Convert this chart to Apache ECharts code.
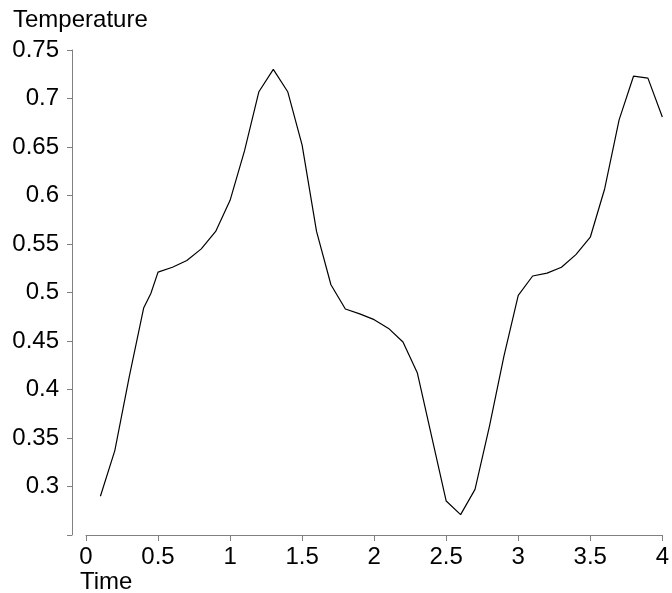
<!DOCTYPE html>
<html>
<head>
<meta charset="utf-8">
<script src="https://cdn.jsdelivr.net/npm/echarts@6/dist/echarts.min.js"></script>
<style>
  html, body { margin: 0; padding: 0; background: #fff; }
  #chart { width: 672px; height: 593px; }
</style>
</head>
<body>
<div id="chart"></div>
<script>
// time steps
var times = [
  0.1, 0.2, 0.3, 0.4, 0.45, 0.5, 0.6, 0.7, 0.8, 0.9, 1.0,
  1.1, 1.2, 1.3, 1.4, 1.5, 1.6, 1.7, 1.8, 1.9, 2.0,
  2.1, 2.2, 2.3, 2.4, 2.5, 2.6, 2.7, 2.8, 2.9, 3.0,
  3.1, 3.2, 3.3, 3.4, 3.5, 3.6, 3.7, 3.8, 3.9, 4.0
];

// temperature
var temps = [
  0.290, 0.337, 0.413, 0.484, 0.499, 0.521, 0.526, 0.533, 0.545, 0.563, 0.595,
  0.646, 0.707, 0.730, 0.707, 0.652, 0.563, 0.508, 0.483, 0.478, 0.472,
  0.463, 0.449, 0.417, 0.351, 0.285, 0.271, 0.297, 0.362, 0.434, 0.497,
  0.517, 0.520, 0.526, 0.539, 0.557, 0.607, 0.678, 0.723, 0.721, 0.681
];

var xTicks = [0, 4, 0.5];        // min, max, step
var yTicks = [0.25, 0.75, 0.05];

var pts = times.map(function (t, i) { return [t, temps[i]]; });

var font = 'Liberation Sans, Arial, Helvetica, sans-serif';
var axisGrey = '#808080';

var myChart = echarts.init(document.getElementById('chart'));

option = {
    animation: false,
    backgroundColor: '#fff',
    grid: {
        left: 86,
        right: 6,
        top: 50,
        bottom: 58
    },
    xAxis: {
        type: 'value',
        min: xTicks[0],
        max: xTicks[1],
        interval: xTicks[2],
        splitLine: { show: false },
        axisLine: { show: true, onZero: false, lineStyle: { color: axisGrey, width: 1 } },
        axisTick: { show: true, length: 6, lineStyle: { color: axisGrey } },
        axisLabel: {
            color: '#000',
            fontFamily: font,
            fontSize: 24,
            margin: 10,
            formatter: function (v) { return String(+v.toFixed(2)); }
        }
    },
    yAxis: {
        type: 'value',
        min: yTicks[0],
        max: yTicks[1],
        interval: yTicks[2],
        offset: 14,
        splitLine: { show: false },
        axisLine: { show: true, onZero: false, lineStyle: { color: axisGrey, width: 1 } },
        axisTick: { show: true, length: 5, lineStyle: { color: axisGrey } },
        axisLabel: {
            color: '#000',
            fontFamily: font,
            fontSize: 24,
            margin: 13,
            formatter: function (v) {
                if (Math.abs(v - yTicks[0]) < 1e-9) return '';
                return String(+v.toFixed(2));
            }
        }
    },
    graphic: [
        {
            type: 'text', left: 13, top: 8,
            style: { text: 'Temperature', fill: '#000', font: '24px ' + font }
        },
        {
            type: 'text', left: 80, top: 570,
            style: { text: 'Time', fill: '#000', font: '24px ' + font }
        }
    ],
    series: [{
        type: 'line',
        data: pts,
        showSymbol: false,
        symbol: 'none',
        lineStyle: { color: '#000', width: 1.2 },
        itemStyle: { color: '#000' }
    }]
};

if (option && typeof option === "object") {
    myChart.setOption(option, true);
}
</script>
</body>
</html>
